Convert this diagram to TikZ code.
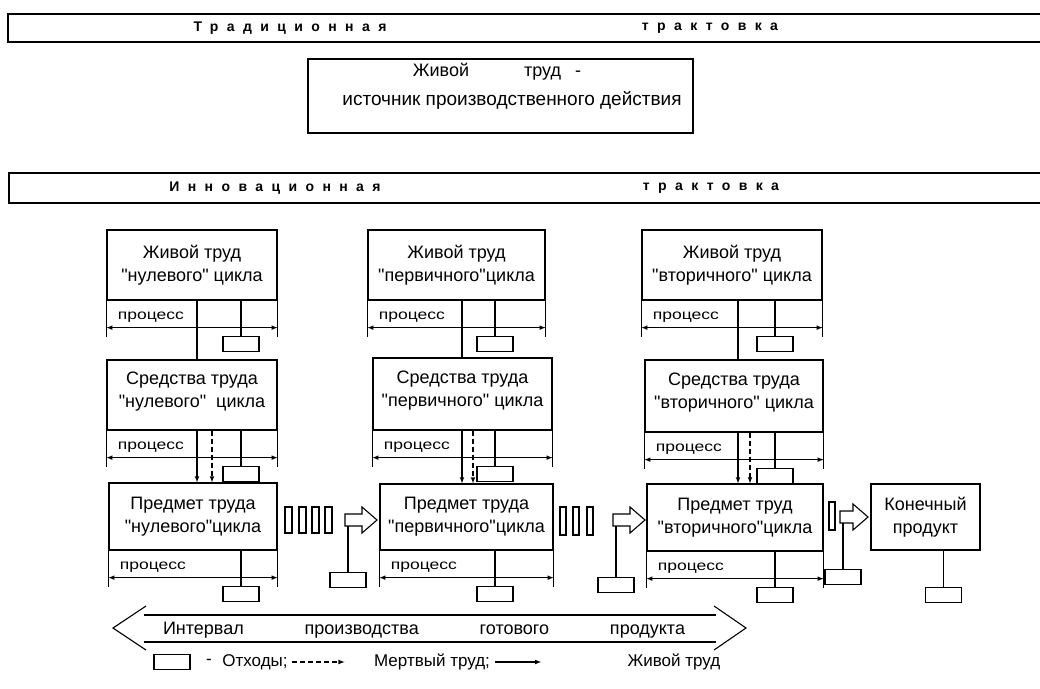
\documentclass[tikz,border=0pt]{standalone}
\usepackage{fontspec}
\setmainfont{Liberation Sans}
\newfontfamily\spacedfont[LetterSpace=60]{Liberation Sans}
\newfontfamily\procfont[FakeStretch=1.25]{Liberation Sans}
\newcommand\qd{\textquotedbl}
\usepackage{tikz}

\begin{document}
\begin{tikzpicture}[x=1pt,y=-1pt,line width=1.1pt,
  box/.style={draw,line width=1.3pt,align=center,inner sep=0pt,font=\fontsize{18}{23}\selectfont},
  otx/.style={draw,line width=1.1pt,fill=white,minimum width=36pt,minimum height=15pt,inner sep=0pt},
  proc/.style={font=\procfont\fontsize{14}{16}\selectfont,inner sep=0pt},
  band/.style={font=\spacedfont\bfseries\fontsize{14}{16}\selectfont,inner sep=0pt},
  lbl/.style={font=\fontsize{17}{20}\selectfont,inner sep=0pt},
  mert/.style={dash pattern=on 5pt off 3pt}]
\useasboundingbox (0,0) rectangle (1040,688);

\draw [line width=1.3pt] (8,14) rectangle (1060,42);
\node [band] (trad) at (290,28) {Традиционная};
\node [band] (trakt1) at (710,28) {трактовка};
\node [draw,line width=1.3pt,minimum width=385pt,minimum height=74pt] (zhivoi) at (500.5,96) {};
\node [font=\fontsize{18}{22}\selectfont,inner sep=0pt] (zt1) at (497,72) {Живой\hspace{55pt}труд\hspace{14pt}-};
\node [font=\fontsize{19}{22}\selectfont,inner sep=0pt] (zt2) at (512,100) {источник производственного действия};

\draw [line width=1.3pt] (9,173) rectangle (1060,203);
\node [band] (innov) at (275,188) {Инновационная};
\node [band] (trakt2) at (711,188) {трактовка};

\node [box,minimum width=170pt,minimum height=70pt] (zh1) at (192,265) {Живой труд\\\qd нулевого\qd{} цикла};
\node [box,minimum width=170pt,minimum height=70pt] (sr1) at (192,395) {Средства труда\\\qd нулевого\qd\ \ цикла\\[-12pt]};
\node [box,minimum width=168pt,minimum height=67pt] (pr1) at (193,516.5) {Предмет труда\\\qd нулевого\qd цикла};
\node [box,minimum width=177pt,minimum height=70pt] (zh2) at (456.5,265) {Живой труд\\\qd первичного\qd цикла};
\node [box,minimum width=179pt,minimum height=72pt] (sr2) at (462.5,394) {Средства труда\\\qd первичного\qd{} цикла\\[-12pt]};
\node [box,minimum width=173pt,minimum height=66pt] (pr2) at (466.5,517) {Предмет труда\\\qd первичного\qd цикла};
\node [box,minimum width=180pt,minimum height=70pt] (zh3) at (732,265) {Живой труд\\\qd вторичного\qd{} цикла};
\node [box,minimum width=178pt,minimum height=72pt] (sr3) at (734,396) {Средства труда\\\qd вторичного\qd{} цикла\\[-12pt]};
\node [box,minimum width=176pt,minimum height=67pt] (pr3) at (735,517.5) {Предмет труд\\\qd вторичного\qd цикла};
\node [box,minimum width=109pt,minimum height=66pt] (kp) at (925.5,517) {Конечный\\продукт};

\foreach \n in {zh1,sr1,pr1,zh2,sr2,pr2,zh3,sr3,pr3}{
  \draw (\n.south west) -- ++(0,36) (\n.south east) -- ++(0,36);
  \draw [<->,>=latex] ([yshift=-27pt]\n.south west) -- ([yshift=-27pt]\n.south east);
  \node [proc,anchor=west] (p\n) at ([xshift=11pt,yshift=-17pt]\n.south west) {процесс};
}

\foreach \c/\l/\d/\w in {1/197/212/241,2/462/473/495,3/738/750/775}{
  \coordinate (L\c) at (\l,0);
  \coordinate (D\c) at (\d,0);
  \coordinate (W\c) at (\w,0);
  \draw (zh\c.south -| L\c) -- (sr\c.north -| L\c);
  \draw [->,>=latex] (sr\c.south -| L\c) -- (pr\c.north -| L\c);
  \draw [->,>=latex,mert] (sr\c.south -| D\c) -- (pr\c.north -| D\c);
  \foreach \r in {zh,sr,pr}{
    \path (\r\c.south -| W\c) ++(0,43) node [otx] (o\r\c) {};
    \draw (o\r\c.north) -- (\r\c.south -| W\c);
  }
}

\foreach \x in {285,299,312,325} \draw (\x,507) rectangle ++(7,26);
\foreach \x in {560,573,587} \draw (\x,507) rectangle ++(6,28);
\draw (829,502) rectangle ++(6,28);

\foreach \i/\xa/\xb/\y/\wy in {1/345/377/520/580,2/613/645/520/585,3/840/868/517/577}{
  \draw (\xa,\y-6) -- (\xb-15,\y-6) -- (\xb-15,\y-13) -- (\xb,\y) -- (\xb-15,\y+13) -- (\xb-15,\y+6) -- (\xa,\y+6) -- cycle;
  \coordinate (ba\i) at (\xa+3,\y+6);
  \node [otx] (oa\i) at (\xa+3,\wy) {};
  \draw (oa\i.north) -- (ba\i);
}
\path (kp.south) ++(18,44) node [otx] (okp) {};
\draw (okp.north) -- (okp.north |- kp.south);

\node [font=\fontsize{18}{22}\selectfont,inner sep=0pt] (int) at (424,630) {\makebox[522pt][s]{Интервал производства готового продукта}};
\draw (144,615) -- (716,615) (144,642) -- (716,642);
\draw (146,606) -- (113,628) -- (146,650) (714,606) -- (746,628) -- (714,650);

\node [otx] (lotx) at (172,662) {};
\node [lbl] (ldash) at (209,662) {-};
\node [lbl] (lotxt) at (255,662) {Отходы;};
\node [lbl] (lmert) at (432,662) {Мертвый труд;};
\node [lbl] (lzhiv) at (674,662) {Живой труд};
\draw [->,>=latex,mert] ([xshift=4pt]lotxt.east) -- ([xshift=-29pt]lmert.west);
\draw [->,>=latex] ([xshift=5pt]lmert.east) -- ([xshift=-86pt]lzhiv.west);
\end{tikzpicture}
\end{document}
